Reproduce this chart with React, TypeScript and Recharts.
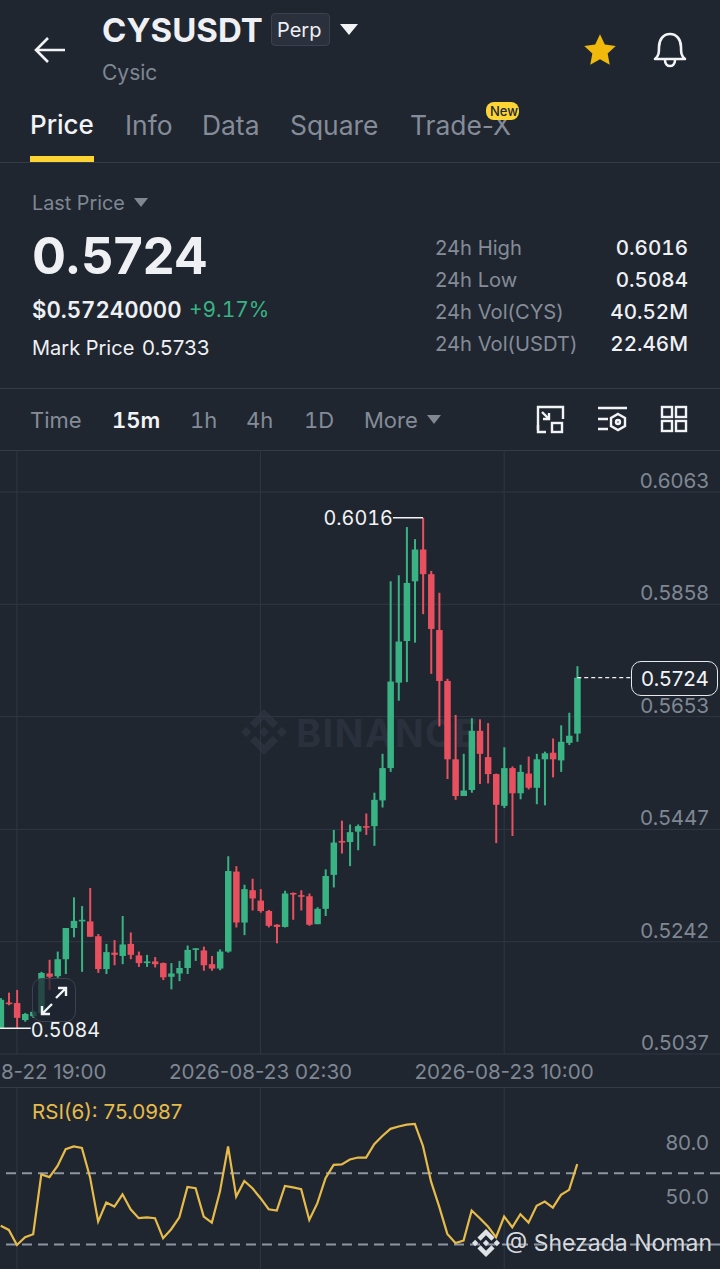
import React from 'react';
import { ComposedChart, Bar, Line, XAxis, YAxis, CartesianGrid, ReferenceLine, ReferenceDot } from 'recharts';

const opens = [
  0.5085, 0.5131, 0.5130, 0.5099, 0.5106, 0.5112, 0.5184, 0.5179, 0.5210, 0.5267, 0.5280, 0.5279,
  0.5252, 0.5192, 0.5222, 0.5216, 0.5238, 0.5217, 0.5203, 0.5206, 0.5203, 0.5178, 0.5184, 0.5194,
  0.5227, 0.5226, 0.5201, 0.5193, 0.5224, 0.5370, 0.5277, 0.5336, 0.5317, 0.5298, 0.5273, 0.5269,
  0.5331, 0.5327, 0.5325, 0.5274, 0.5302, 0.5364, 0.5426, 0.5424, 0.5443, 0.5453, 0.5453, 0.5500,
  0.5559, 0.5715, 0.5791, 0.5900, 0.5958, 0.5913, 0.5811, 0.5718, 0.5575, 0.5508, 0.5519, 0.5627,
  0.5579, 0.5548, 0.5490, 0.5559, 0.5513, 0.5549, 0.5523, 0.5575, 0.5587, 0.5573, 0.5605, 0.5622,
];
const highs = [
  0.5139, 0.5149, 0.5154, 0.5112, 0.5116, 0.5187, 0.5209, 0.5224, 0.5267, 0.5323, 0.5307, 0.5340,
  0.5256, 0.5238, 0.5245, 0.5289, 0.5259, 0.5224, 0.5218, 0.5214, 0.5204, 0.5203, 0.5207, 0.5235,
  0.5230, 0.5233, 0.5216, 0.5228, 0.5398, 0.5380, 0.5346, 0.5357, 0.5338, 0.5300, 0.5274, 0.5335,
  0.5332, 0.5336, 0.5330, 0.5305, 0.5374, 0.5446, 0.5463, 0.5456, 0.5456, 0.5476, 0.5514, 0.5585,
  0.5900, 0.5911, 0.5999, 0.5977, 0.6016, 0.5919, 0.5879, 0.5722, 0.5656, 0.5585, 0.5650, 0.5648,
  0.5641, 0.5549, 0.5597, 0.5562, 0.5565, 0.5580, 0.5585, 0.5589, 0.5613, 0.5637, 0.5660, 0.5745,
];
const lows = [
  0.5085, 0.5126, 0.5084, 0.5096, 0.5103, 0.5110, 0.5154, 0.5176, 0.5183, 0.5250, 0.5187, 0.5251,
  0.5185, 0.5183, 0.5199, 0.5201, 0.5210, 0.5196, 0.5196, 0.5195, 0.5172, 0.5155, 0.5170, 0.5183,
  0.5207, 0.5189, 0.5189, 0.5190, 0.5222, 0.5268, 0.5254, 0.5299, 0.5295, 0.5268, 0.5239, 0.5268,
  0.5282, 0.5299, 0.5271, 0.5274, 0.5289, 0.5341, 0.5403, 0.5380, 0.5409, 0.5437, 0.5417, 0.5487,
  0.5552, 0.5682, 0.5716, 0.5788, 0.5840, 0.5731, 0.5635, 0.5539, 0.5501, 0.5508, 0.5514, 0.5530,
  0.5531, 0.5422, 0.5486, 0.5435, 0.5502, 0.5520, 0.5493, 0.5491, 0.5542, 0.5552, 0.5601, 0.5607,
];
const closes = [
  0.5136, 0.5128, 0.5103, 0.5110, 0.5114, 0.5185, 0.5178, 0.5210, 0.5267, 0.5280, 0.5282, 0.5251,
  0.5192, 0.5223, 0.5218, 0.5237, 0.5218, 0.5203, 0.5206, 0.5201, 0.5177, 0.5184, 0.5194, 0.5227,
  0.5230, 0.5199, 0.5193, 0.5224, 0.5371, 0.5277, 0.5338, 0.5321, 0.5298, 0.5271, 0.5269, 0.5330,
  0.5329, 0.5324, 0.5273, 0.5302, 0.5362, 0.5423, 0.5423, 0.5442, 0.5453, 0.5450, 0.5501, 0.5559,
  0.5717, 0.5790, 0.5897, 0.5958, 0.5913, 0.5813, 0.5718, 0.5575, 0.5508, 0.5518, 0.5627, 0.5585,
  0.5548, 0.5492, 0.5559, 0.5513, 0.5552, 0.5523, 0.5575, 0.5586, 0.5575, 0.5607, 0.5618, 0.5724,
];
const rsi = [
  40.5, 38.2, 29.8, 34.1, 35.8, 69.3, 67.8, 74.1, 83.5, 85.0, 84.2, 67.8,
  42.9, 53.6, 51.3, 58.2, 49.8, 44.8, 45.3, 44.8, 33.6, 38.6, 45.3, 62.3,
  61.6, 45.7, 42.3, 59.7, 85.0, 56.9, 65.7, 61.6, 56.0, 49.8, 49.1, 62.9,
  62.1, 61.0, 43.8, 53.2, 67.2, 74.7, 75.0, 77.7, 78.8, 78.8, 86.3, 90.9,
  94.9, 96.2, 97.3, 97.7, 85.3, 65.3, 51.3, 36.0, 30.9, 32.2, 49.1, 44.8,
  40.1, 34.1, 45.7, 39.7, 47.0, 42.3, 51.7, 54.1, 50.7, 57.9, 60.7, 75.1,
];

const priceTicks = [0.6063, 0.5858, 0.5653, 0.5447, 0.5242, 0.5037];
const rsiTicks = [80, 50];
const rsiLevels = [70, 30];
const timeTicks = [2, 32, 62];
const timeLabels = ['2026-08-22 19:00', '2026-08-23 02:30', '2026-08-23 10:00'];

const stats = [
  { label: '24h High', value: '0.6016', y: 248 },
  { label: '24h Low', value: '0.5084', y: 280 },
  { label: '24h Vol(CYS)', value: '40.52M', y: 312 },
  { label: '24h Vol(USDT)', value: '22.46M', y: 344 },
];
const tabs = [
  { label: 'Price', x: 30, color: '#f2f3f5', size: 26 },
  { label: 'Info', x: 125, color: '#858c98', size: 26.4 },
  { label: 'Data', x: 202, color: '#858c98', size: 26.4 },
  { label: 'Square', x: 290, color: '#858c98', size: 26.4 },
  { label: 'Trade-X', x: 410, color: '#858c98', size: 26.4 },
];
const intervals = [
  { label: 'Time', x: 30, color: '#858c98', weight: 400 },
  { label: '15m', x: 112, color: '#f2f3f5', weight: 600 },
  { label: '1h', x: 190, color: '#858c98', weight: 400 },
  { label: '4h', x: 246, color: '#858c98', weight: 400 },
  { label: '1D', x: 304, color: '#858c98', weight: 400 },
  { label: 'More', x: 364, color: '#858c98', weight: 400 },
];

const candles = opens.map((open, i) => ({
  idx: i,
  open,
  close: closes[i],
  high: highs[i],
  low: lows[i],
  range: [lows[i], highs[i]],
  rsi: rsi[i],
}));

const BG = '#1f2630';
const GRID = '#303743';
const UP = '#39b384';
const DOWN = '#e8505f';
const FONT = 'Inter, "Noto Sans", sans-serif';
const TNUM = { fontVariantNumeric: 'tabular-nums' };
const X_DOMAIN: [number, number] = [-0.086, 88.58];

const Candle = (props: any) => {
  const { x, y, width, height, payload } = props;
  const { open, close, high, low } = payload;
  const yOf = (p: number) => y + ((high - p) / (high - low)) * height;
  const color = close >= open ? UP : DOWN;
  const top = yOf(Math.max(open, close));
  const bottom = yOf(Math.min(open, close));
  const cx = x + width / 2;
  return (
    <g>
      <rect x={cx - 1} y={y} width={2} height={height} fill={color} />
      <rect x={x} y={top} width={width} height={Math.max(bottom - top, 1.6)} fill={color} />
    </g>
  );
};

const PriceTick = (props: any) => (
  <text x={709} y={props.y - 4} textAnchor="end" fontSize={20.6} fontFamily={FONT} fill="#7f8792">
    {props.payload.value.toFixed(4)}
  </text>
);

const RsiTick = (props: any) => (
  <text x={709} y={props.y - 5} textAnchor="end" fontSize={20.6} fontFamily={FONT} fill="#7f8792">
    {props.payload.value.toFixed(1)}
  </text>
);

const Txt = ({ x, y, size, color, weight = 400, right, tnum, children }: any) => (
  <div
    style={{
      position: 'absolute',
      ...(right !== undefined ? { right } : { left: x }),
      top: y,
      transform: 'translateY(-50%)',
      fontSize: size,
      color,
      fontWeight: weight,
      lineHeight: 1,
      whiteSpace: 'nowrap',
      ...(tnum ? TNUM : {}),
    }}
  >
    {children}
  </div>
);

const Tri = ({ x, y, w, h, color }: any) => (
  <svg style={{ position: 'absolute', left: x, top: y }} width={w} height={h}>
    <polygon points={`0,0 ${w},0 ${w / 2},${h}`} fill={color} />
  </svg>
);

const Diamond = ({ x, y, s, color }: any) => (
  <svg style={{ position: 'absolute', left: x, top: y }} width={s} height={s} viewBox="0 0 32 32" fill={color}>
    <path d="M9.800 13.400L16 7.200l6.200 6.200 3.600-3.600L16 0 6.200 9.800z" />
    <path d="M0 16l3.600-3.600L7.200 16l-3.600 3.600z" />
    <path d="M9.800 18.600L16 24.800l6.200-6.200 3.600 3.600L16 32l-9.800-9.800z" />
    <path d="M24.800 16l3.600-3.600L32 16l-3.600 3.600z" />
    <path d="M19.600 16L16 12.400 12.400 16l3.600 3.600z" />
  </svg>
);

const App = () => {
  return (
    <div style={{ position: 'absolute', left: 0, top: 0, width: 720, height: 1269, background: BG, overflow: 'hidden', fontFamily: FONT }}>
      {/* header */}
      <svg style={{ position: 'absolute', left: 34, top: 36 }} width={32} height={28} fill="none" stroke="#f2f3f5" strokeWidth={2.6}>
        <path d="M31 14H2M14 2L2 14l12 12" />
      </svg>
      <Txt x={102} y={30} size={33} color="#eef0f3" weight={700}>CYSUSDT</Txt>
      <div style={{ position: 'absolute', left: 271, top: 13, width: 57, height: 31, background: '#2a313d', border: '1px solid #3a424f', borderRadius: 4 }} />
      <Txt x={277} y={30} size={20} color="#eef0f3">Perp</Txt>
      <Tri x={340} y={24} w={18} h={11} color="#f2f3f5" />
      <Txt x={102} y={72} size={21} color="#7f8792">Cysic</Txt>
      <svg style={{ position: 'absolute', left: 582, top: 32 }} width={36} height={36} viewBox="0 0 24 24" fill="#f0b90b">
        <path d="M12 1.500l3.200 6.900 7.300.9-5.400 5.100 1.400 7.400L12 18.200l-6.500 3.600 1.400-7.400L1.500 9.300l7.300-.9z" />
      </svg>
      <svg style={{ position: 'absolute', left: 652, top: 31 }} width={36} height={38} viewBox="0 0 36 38" fill="none" stroke="#f2f3f5" strokeWidth={2.6}>
        <path d="M3 28c4-3 4-7 4-12 0-7 4-13 11-13s11 6 11 13c0 5 0 9 4 12z" strokeLinejoin="round" />
        <path d="M13 29c0 8 10 8 10 0" />
      </svg>
      {tabs.map((t) => (
        <Txt key={t.label} x={t.x} y={125} size={t.size} color={t.color} weight={t.label === 'Price' ? 500 : 400}>{t.label}</Txt>
      ))}
      <div style={{ position: 'absolute', left: 486, top: 102, width: 33, height: 18, background: '#fcd535', borderRadius: 8 }} />
      <Txt x={490} y={111} size={13} color="#1f2630" weight={500}>New</Txt>
      <div style={{ position: 'absolute', left: 30, top: 156, width: 64, height: 6, background: '#fcd535' }} />
      <div style={{ position: 'absolute', left: 0, top: 162, width: 720, height: 1, background: '#343b46' }} />

      {/* price block */}
      <Txt x={32} y={204} size={19.8} color="#7f8792">Last Price</Txt>
      <Tri x={134} y={198} w={14} h={9} color="#7f8792" />
      <Txt x={32} y={256} size={50.5} color="#eef0f3" weight={700}>0.5724</Txt>
      <Txt x={32} y={310} size={22.2} color="#eef0f3" weight={600} tnum>$0.57240000</Txt>
      <Txt x={189} y={310} size={20.9} color={UP} tnum>+9.17%</Txt>
      <Txt x={32} y={348} size={20} color="#eef0f3">Mark Price</Txt>
      <Txt x={142} y={348} size={20.6} color="#eef0f3">0.5733</Txt>
      {stats.map((s) => (
        <React.Fragment key={s.label}>
          <Txt x={435} y={s.y} size={20.2} color="#858c98">{s.label}</Txt>
          <Txt right={32} y={s.y} size={20.6} color="#eef0f3" weight={500} tnum>{s.value}</Txt>
        </React.Fragment>
      ))}
      <div style={{ position: 'absolute', left: 0, top: 388, width: 720, height: 1, background: '#343b46' }} />

      {/* interval bar */}
      {intervals.map((t) => (
        <Txt key={t.label} x={t.x} y={420} size={22} color={t.color} weight={t.weight} tnum>{t.label}</Txt>
      ))}
      <Tri x={427} y={415} w={14} h={9} color="#7f8792" />
      <svg style={{ position: 'absolute', left: 536, top: 405 }} width={30} height={30} fill="none" stroke="#f2f3f5" strokeWidth={2.4}>
        <path d="M2 25V2h25v12M6 7l7 7M13 8v6H7" />
        <rect x={16} y={18} width={10} height={9} />
        <path d="M2 20v7h8" />
      </svg>
      <svg style={{ position: 'absolute', left: 596, top: 405 }} width={32} height={30} fill="none" stroke="#f2f3f5" strokeWidth={2.4}>
        <path d="M2 3h29M2 14h10M2 24h10" />
        <polygon points="22,9 29,13 29,21 22,25 15,21 15,13" />
        <circle cx={22} cy={17} r={2} />
      </svg>
      <svg style={{ position: 'absolute', left: 660, top: 405 }} width={28} height={28} fill="none" stroke="#f2f3f5" strokeWidth={2.4}>
        <rect x={2} y={2} width={10} height={10} />
        <rect x={16} y={2} width={10} height={10} />
        <rect x={2} y={16} width={10} height={10} />
        <rect x={16} y={16} width={10} height={10} />
      </svg>
      <div style={{ position: 'absolute', left: 0, top: 450, width: 720, height: 1, background: '#343b46' }} />

      {/* watermark under the candles */}
      <Diamond x={241} y={709} s={46} color="#2a313c" />
      <div style={{ position: 'absolute', left: 296, top: 710, fontSize: 38, fontWeight: 700, color: '#2a313c', letterSpacing: 1.4 }}>BINANCE</div>

      <div style={{ position: 'absolute', left: 0, top: 450 }}>
        <ComposedChart width={720} height={637} data={candles} margin={{ top: 0, right: 0, bottom: 0, left: 0 }}>
          <CartesianGrid stroke={GRID} verticalValues={timeTicks} horizontalValues={priceTicks} />
          <XAxis
            dataKey="idx"
            type="number"
            domain={X_DOMAIN}
            allowDataOverflow
            ticks={timeTicks}
            interval={0}
            height={33}
            axisLine={false}
            tickLine={false}
            tickMargin={4}
            tick={{ fill: '#7f8792', fontSize: 20.6, fontFamily: FONT }}
            tickFormatter={(v: number) => timeLabels[timeTicks.indexOf(v)]}
          />
          <YAxis
            type="number"
            orientation="right"
            mirror
            width={80}
            domain={[0.5037, 0.61397]}
            allowDataOverflow
            ticks={priceTicks}
            interval={0}
            axisLine={false}
            tickLine={false}
            tick={<PriceTick />}
          />
          <Bar dataKey="range" barSize={6.5} isAnimationActive={false} shape={<Candle />} />
          <ReferenceLine segment={[{ x: 48.3, y: 0.6016 }, { x: 52, y: 0.6016 }]} stroke="#f2f3f5" strokeWidth={1.5} />
          <ReferenceDot x={48.3} y={0.6016} r={0} fill="none" stroke="none" label={{ value: '0.6016', position: 'left', fill: '#f2f3f5', fontSize: 19.8, fontFamily: FONT, offset: 0, style: TNUM }} />
          <ReferenceLine segment={[{ x: -0.08, y: 0.5084 }, { x: 3.7, y: 0.5084 }]} stroke="#f2f3f5" strokeWidth={1.5} />
          <ReferenceDot x={3.7} y={0.5084} r={0} fill="none" stroke="none" label={{ value: '0.5084', position: 'right', fill: '#f2f3f5', fontSize: 19.8, fontFamily: FONT, offset: 0, dy: 2, style: TNUM }} />
          <ReferenceLine segment={[{ x: 71, y: 0.5724 }, { x: 77.6, y: 0.5724 }]} stroke="#f2f3f5" strokeWidth={1.2} strokeDasharray="4 3" />
        </ComposedChart>
      </div>

      {/* last price tag */}
      <div style={{ position: 'absolute', left: 631, top: 661, width: 87, height: 35, boxSizing: 'border-box', background: BG, border: '1.5px solid #e6e8ec', borderRadius: 10 }} />
      <Txt x={641} y={679} size={20.6} color="#f2f3f5">0.5724</Txt>

      {/* expand button */}
      <div style={{ position: 'absolute', left: 32, top: 978, width: 44, height: 44, boxSizing: 'border-box', background: 'rgba(31,38,48,0.75)', border: '1.5px solid #3b4350', borderRadius: 10 }} />
      <svg style={{ position: 'absolute', left: 38, top: 986 }} width={32} height={30} fill="none" stroke="#f2f3f5" strokeWidth={2.4}>
        <path d="M18 12L28 2M20 2h8v8M14 18L4 28M4 20v8h8" />
      </svg>
      <div style={{ position: 'absolute', left: 0, top: 1087, width: 720, height: 1, background: '#343b46' }} />

      <div style={{ position: 'absolute', left: 0, top: 1088 }}>
        <ComposedChart width={720} height={181} data={candles} margin={{ top: 0, right: 0, bottom: 0, left: 0 }}>
          <CartesianGrid stroke={GRID} verticalValues={timeTicks} horizontal={false} />
          <XAxis dataKey="idx" type="number" domain={X_DOMAIN} allowDataOverflow ticks={timeTicks} hide />
          <YAxis
            type="number"
            orientation="right"
            mirror
            width={80}
            domain={[16.3, 117.8]}
            allowDataOverflow
            ticks={rsiTicks}
            interval={0}
            axisLine={false}
            tickLine={false}
            tick={<RsiTick />}
          />
          {rsiLevels.map((v) => (
            <ReferenceLine key={v} y={v} stroke="#8d95a1" strokeWidth={2} strokeDasharray="10 6" />
          ))}
          <Line dataKey="rsi" type="linear" stroke="#e6bb4a" strokeWidth={2.2} dot={false} isAnimationActive={false} />
        </ComposedChart>
      </div>
      <Txt x={32} y={1112} size={20.6} color="#e6bb4a">RSI(6): 75.0987</Txt>

      {/* user watermark */}
      <Diamond x={472} y={1229} s={28} color="#dfe2e6" />
      <Txt x={505} y={1243} size={23} color="#d6d9de">@ Shezada Noman</Txt>
    </div>
  );
};

export default App;
